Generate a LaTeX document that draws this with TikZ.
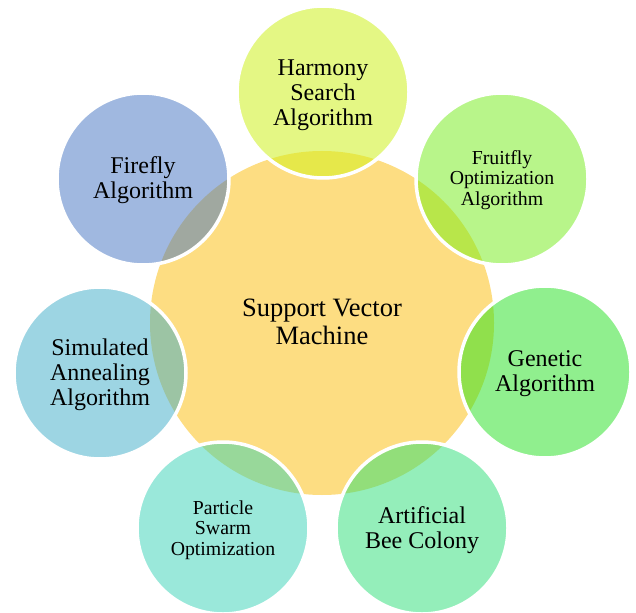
\documentclass[tikz,border=0pt]{standalone}
\usepackage{fontspec}
\setmainfont{Liberation Serif}
\begin{document}
\begin{tikzpicture}[x=1pt,y=-1pt]
\definecolor{cCenter}{RGB}{253,221,130}
\definecolor{cHarm}{RGB}{228,247,132}\definecolor{oHarm}{RGB}{230,232,74}
\definecolor{cFruit}{RGB}{184,245,138}\definecolor{oFruit}{RGB}{184,230,74}
\definecolor{cGen}{RGB}{144,239,142}\definecolor{oGen}{RGB}{144,224,76}
\definecolor{cBee}{RGB}{148,238,186}\definecolor{oBee}{RGB}{146,222,122}
\definecolor{cPart}{RGB}{154,232,218}\definecolor{oPart}{RGB}{152,216,154}
\definecolor{cSim}{RGB}{157,213,227}\definecolor{oSim}{RGB}{156,196,164}
\definecolor{cFire}{RGB}{160,184,224}\definecolor{oFire}{RGB}{160,168,160}
\tikzset{
  bigtxt/.style={font=\fontsize{26.5}{28}\selectfont, align=center, text=black},
  midtxt/.style={font=\fontsize{24}{25}\selectfont, align=center, text=black},
  smalltxt/.style={font=\fontsize{19.8}{20.5}\selectfont, align=center, text=black},
  ring/.style={draw=white, line width=3.5pt},
}
\useasboundingbox (0,0) rectangle (636,612);
\clip (0,0) rectangle (636,612);
\coordinate (C) at (322,323);
\fill[cCenter] (C) circle (172);
\foreach \nm/\px/\py/\cc/\oc in {harm/323/92/cHarm/oHarm, fruit/502/179/cFruit/oFruit, gen/545/372/cGen/oGen, bee/422/528/cBee/oBee, part/223/528/cPart/oPart, sim/100/373/cSim/oSim, fire/143/179/cFire/oFire}{
  \coordinate (\nm) at (\px,\py);
  \fill[\cc] (\nm) circle (86);
  \begin{scope}
    \clip (C) circle (172);
    \fill[\oc] (\nm) circle (86);
  \end{scope}
  \draw[ring] (\nm) circle (86);
}
\node[bigtxt] (svm) at (322,322) {Support Vector\\Machine};
\node[midtxt] (tharm) at (323,95) {Harmony\\Search\\Algorithm};
\node[smalltxt] (tfruit) at (502,180) {Fruitfly\\Optimization\\Algorithm};
\node[midtxt] (tgen) at (545,374) {Genetic\\Algorithm};
\node[midtxt] (tbee) at (422,530) {Artificial\\Bee Colony};
\node[smalltxt] (tpart) at (223,530) {Particle\\Swarm\\Optimization};
\node[midtxt] (tsim) at (100,375) {Simulated\\Annealing\\Algorithm};
\node[midtxt] (tfire) at (143,180) {Firefly\\Algorithm};
\end{tikzpicture}
\end{document}
